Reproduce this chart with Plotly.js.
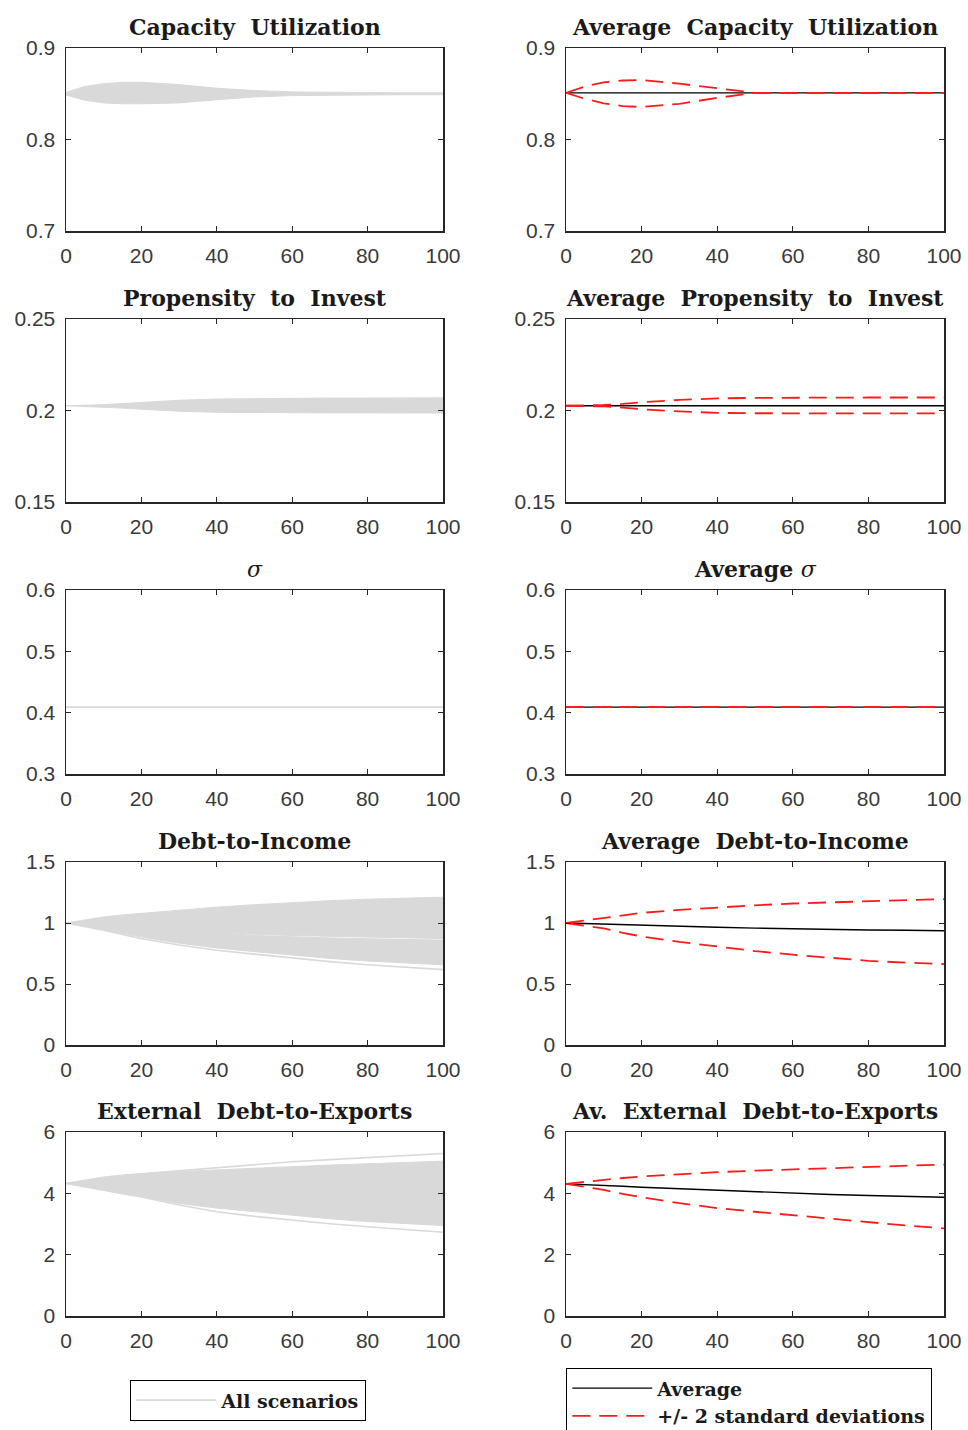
<!DOCTYPE html>
<html><head><meta charset="utf-8">
<script src="https://cdn.plot.ly/plotly-3.0.1.min.js"></script>
<style>html,body{margin:0;padding:0;background:#fff;overflow:hidden}#chart{width:968px;height:1430px}</style>
</head><body><div id="chart"></div>
<script>
// ---------------- DATA ----------------
const periods = [0, 5, 10, 15, 20, 30, 40, 50, 60, 70, 80, 90, 100];

// Capacity Utilization (all scenarios envelope)
const cuScenUpper = [0.8515, 0.858, 0.861, 0.8625, 0.8625, 0.860, 0.856, 0.8535, 0.852, 0.8515, 0.851, 0.851, 0.851];
const cuScenLower = [0.8485, 0.843, 0.840, 0.839, 0.839, 0.840, 0.8435, 0.8465, 0.848, 0.8485, 0.849, 0.849, 0.849];
// Average Capacity Utilization
const cuMean  = [0.851, 0.851, 0.851, 0.851, 0.851, 0.851, 0.851, 0.851, 0.851, 0.851, 0.851, 0.851, 0.851];
const cuUpper = [0.851, 0.858, 0.8625, 0.8645, 0.865, 0.861, 0.856, 0.851, 0.851, 0.851, 0.851, 0.851, 0.851];
const cuLower = [0.851, 0.8445, 0.8395, 0.8365, 0.8355, 0.839, 0.8455, 0.851, 0.851, 0.851, 0.851, 0.851, 0.851];

// Propensity to Invest
const piScenUpper = [0.2026, 0.2028, 0.2032, 0.2038, 0.2045, 0.2056, 0.2063, 0.2066, 0.2068, 0.2068, 0.2068, 0.2068, 0.2069];
const piScenLower = [0.2026, 0.2023, 0.2018, 0.2013, 0.2007, 0.1996, 0.1990, 0.1988, 0.1987, 0.1987, 0.1987, 0.1987, 0.1986];
const piMean  = [0.2026, 0.2026, 0.2026, 0.2026, 0.2026, 0.2026, 0.2026, 0.2026, 0.2026, 0.2026, 0.2026, 0.2026, 0.2026];
const piUpper = [0.2026, 0.2027, 0.2030, 0.2036, 0.2045, 0.2058, 0.2066, 0.2069, 0.2071, 0.2071, 0.2071, 0.2071, 0.2071];
const piLower = [0.2026, 0.2025, 0.2022, 0.2016, 0.2007, 0.1995, 0.1987, 0.1985, 0.1984, 0.1984, 0.1984, 0.1984, 0.1984];

// sigma
const sgScen  = [0.409, 0.409, 0.409, 0.409, 0.409, 0.409, 0.409, 0.409, 0.409, 0.409, 0.409, 0.409, 0.409];
const sgMean  = [0.409, 0.409, 0.409, 0.409, 0.409, 0.409, 0.409, 0.409, 0.409, 0.409, 0.409, 0.409, 0.409];
const sgUpper = [0.409, 0.409, 0.409, 0.409, 0.409, 0.409, 0.409, 0.409, 0.409, 0.409, 0.409, 0.409, 0.409];
const sgLower = [0.409, 0.409, 0.409, 0.409, 0.409, 0.409, 0.409, 0.409, 0.409, 0.409, 0.409, 0.409, 0.409];

// Debt-to-Income (scenario clusters)
const diTopLine   = [1.0, 1.026, 1.05, 1.066, 1.08, 1.105, 1.13, 1.15, 1.168, 1.183, 1.195, 1.205, 1.212];
const diClusterALow = [1.0, 1.0, 0.99, 0.98, 0.97, 0.95, 0.925, 0.907, 0.897, 0.89, 0.883, 0.877, 0.872];
const diClusterBHigh = [1.0, 1.0, 0.99, 0.98, 0.97, 0.95, 0.925, 0.897, 0.886, 0.878, 0.871, 0.865, 0.86];
const diClusterBLow = [1.0, 0.975, 0.945, 0.915, 0.885, 0.835, 0.795, 0.765, 0.735, 0.71, 0.688, 0.67, 0.657];
const diBottomLine = [1.0, 0.972, 0.94, 0.905, 0.872, 0.82, 0.777, 0.745, 0.712, 0.683, 0.658, 0.636, 0.618];
// Average Debt-to-Income
const diMean  = [1.0, 0.995, 0.99, 0.985, 0.98, 0.972, 0.965, 0.958, 0.952, 0.947, 0.943, 0.94, 0.937];
const diUpper = [1.0, 1.022, 1.044, 1.065, 1.083, 1.107, 1.127, 1.145, 1.16, 1.17, 1.18, 1.19, 1.196];
const diLower = [1.0, 0.978, 0.956, 0.92, 0.89, 0.845, 0.807, 0.77, 0.74, 0.713, 0.69, 0.675, 0.663];

// External Debt-to-Exports
const edTopLine  = [4.32, 4.43, 4.52, 4.59, 4.64, 4.73, 4.82, 4.94, 5.03, 5.10, 5.17, 5.24, 5.30];
const edFillTop  = [4.32, 4.43, 4.52, 4.59, 4.64, 4.71, 4.77, 4.82, 4.87, 4.92, 4.97, 5.01, 5.05];
const edFillBot  = [4.32, 4.21, 4.12, 4.02, 3.90, 3.67, 3.52, 3.40, 3.28, 3.17, 3.08, 3.01, 2.95];
const edBotLine  = [4.32, 4.20, 4.10, 3.99, 3.88, 3.62, 3.40, 3.25, 3.12, 3.01, 2.91, 2.81, 2.73];
// Av. External Debt-to-Exports
const edMean  = [4.31, 4.29, 4.27, 4.23, 4.20, 4.15, 4.10, 4.05, 4.00, 3.96, 3.93, 3.90, 3.87];
const edUpper = [4.31, 4.38, 4.44, 4.50, 4.55, 4.63, 4.69, 4.74, 4.78, 4.82, 4.85, 4.90, 4.94];
const edLower = [4.31, 4.21, 4.11, 3.98, 3.87, 3.68, 3.52, 3.40, 3.29, 3.16, 3.05, 2.95, 2.86];

// Titles and ticks
const leftTitles  = ['<b>Capacity  Utilization</b>', '<b>Propensity  to  Invest</b>', '<i>σ</i>', '<b>Debt-to-Income</b>', '<b>External  Debt-to-Exports</b>'];
const rightTitles = ['<b>Average  Capacity  Utilization</b>', '<b>Average  Propensity  to  Invest</b>', '<b>Average </b><i>σ</i>', '<b>Average  Debt-to-Income</b>', '<b>Av.  External  Debt-to-Exports</b>'];
const yRanges = [[0.7, 0.9], [0.15, 0.25], [0.3, 0.6], [0, 1.5], [0, 6]];
const yTicks  = [[0.7, 0.8, 0.9], [0.15, 0.2, 0.25], [0.3, 0.4, 0.5, 0.6], [0, 0.5, 1, 1.5], [0, 2, 4, 6]];
const yTickText = [['0.7', '0.8', '0.9'], ['0.15', '0.2', '0.25'], ['0.3', '0.4', '0.5', '0.6'], ['0', '0.5', '1', '1.5'], ['0', '2', '4', '6']];
const xTicks = [0, 20, 40, 60, 80, 100];
const legendNames = ['All scenarios', 'Average', '+/- 2 standard deviations'];

// ---------------- LAYOUT HELPERS ----------------
const W = 968, H = 1430;
const colPx = [[66, 443], [566, 944]];
const rowPx = [[48, 231], [319, 502], [590, 774], [862, 1045], [1132, 1316]];
const GRAY = '#d9d9d9', RED = '#ff1a1a', AX = '#262626';
const tickFont = {family: 'Liberation Sans, Arial, sans-serif', size: 21, color: '#3a3a3a'};
const titleFont = {family: 'DejaVu Serif, serif', size: 22, color: '#1a1a1a'};
const legFont = {family: 'DejaVu Serif, serif', size: 19, color: '#1a1a1a', weight: 'bold'};

const layout = {
  width: W, height: H, margin: {l: 0, r: 0, t: 0, b: 0, autoexpand: false},
  paper_bgcolor: '#fff', plot_bgcolor: '#fff',
  showlegend: true, annotations: [],
  legend: {x: 130 / W, y: 1 - 1380 / H, xanchor: 'left', yanchor: 'top', bgcolor: '#fff',
           bordercolor: '#000', borderwidth: 1.3, font: legFont, itemwidth: 80, tracegroupgap: 0},
  legend2: {x: 566 / W, y: 1 - 1368 / H, xanchor: 'left', yanchor: 'top', bgcolor: '#fff',
           bordercolor: '#000', borderwidth: 1.3, font: legFont, itemwidth: 80, tracegroupgap: 0}
};

const traces = [];
function axId(k) { return k === 0 ? '' : String(k + 1); }

for (let r = 0; r < 5; r++) {
  for (let c = 0; c < 2; c++) {
    const k = r * 2 + c, id = axId(k);
    const xd = [colPx[c][0] / W, colPx[c][1] / W];
    const yd = [1 - rowPx[r][1] / H, 1 - rowPx[r][0] / H];
    layout['xaxis' + id] = {domain: xd, anchor: 'y' + id, range: [0, 100], tickvals: xTicks,
      ticks: 'inside', ticklen: 5, tickcolor: AX, tickwidth: 1, showline: true, linecolor: AX, linewidth: 1.5,
      mirror: 'allticks', showgrid: false, zeroline: false, tickfont: tickFont, fixedrange: true, ticklabelstandoff: 5};
    layout['yaxis' + id] = {domain: yd, anchor: 'x' + id, range: yRanges[r], tickvals: yTicks[r], ticktext: yTickText[r],
      ticks: 'inside', ticklen: 5, tickcolor: AX, tickwidth: 1, showline: true, linecolor: AX, linewidth: 1.5,
      mirror: 'allticks', showgrid: false, zeroline: false, tickfont: tickFont, fixedrange: true, ticklabelstandoff: 5};
    layout.annotations.push({text: c === 0 ? leftTitles[r] : rightTitles[r], xref: 'paper', yref: 'paper',
      x: (xd[0] + xd[1]) / 2, y: yd[1], xanchor: 'center', yanchor: 'bottom', yshift: 6, showarrow: false, font: titleFont});
  }
}

function ax(k) { const id = axId(k); return {xaxis: 'x' + id, yaxis: 'y' + id}; }
function band(k, lo, hi) {
  traces.push(Object.assign({x: periods, y: lo, mode: 'lines', line: {color: GRAY, width: 1}, showlegend: false, hoverinfo: 'skip'}, ax(k)));
  traces.push(Object.assign({x: periods, y: hi, mode: 'lines', fill: 'tonexty', fillcolor: GRAY, line: {color: GRAY, width: 1}, showlegend: false, hoverinfo: 'skip'}, ax(k)));
}
function scenLine(k, y, legend) {
  traces.push(Object.assign({x: periods, y: y, mode: 'lines', line: {color: GRAY, width: 1.6}, name: legendNames[0],
    showlegend: !!legend, legend: 'legend', hoverinfo: 'skip'}, ax(k)));
}
function avgPanel(k, mean, up, lo, legend) {
  traces.push(Object.assign({x: periods, y: mean, mode: 'lines', line: {color: '#000', width: 1.4}, name: legendNames[1],
    showlegend: !!legend, legend: 'legend2', hoverinfo: 'skip'}, ax(k)));
  traces.push(Object.assign({x: periods, y: up, mode: 'lines', line: {color: RED, width: 1.8, dash: '18px,9px'}, name: legendNames[2],
    showlegend: !!legend, legend: 'legend2', hoverinfo: 'skip'}, ax(k)));
  traces.push(Object.assign({x: periods, y: lo, mode: 'lines', line: {color: RED, width: 1.8, dash: '18px,9px'}, name: legendNames[2],
    showlegend: false, legend: 'legend2', hoverinfo: 'skip'}, ax(k)));
}

// Row 1
band(0, cuScenLower, cuScenUpper);
avgPanel(1, cuMean, cuUpper, cuLower, false);
// Row 2
band(2, piScenLower, piScenUpper);
avgPanel(3, piMean, piUpper, piLower, false);
// Row 3
scenLine(4, sgScen, false);
avgPanel(5, sgMean, sgUpper, sgLower, false);
// Row 4
band(6, diClusterBLow, diClusterBHigh);
band(6, diClusterALow, diTopLine);
scenLine(6, diBottomLine, false);
avgPanel(7, diMean, diUpper, diLower, false);
// Row 5
band(8, edFillBot, edFillTop);
scenLine(8, edTopLine, false);
scenLine(8, edBotLine, true);
avgPanel(9, edMean, edUpper, edLower, true);

Plotly.newPlot('chart', traces, layout, {staticPlot: true, displayModeBar: false});
</script>
</body></html>
